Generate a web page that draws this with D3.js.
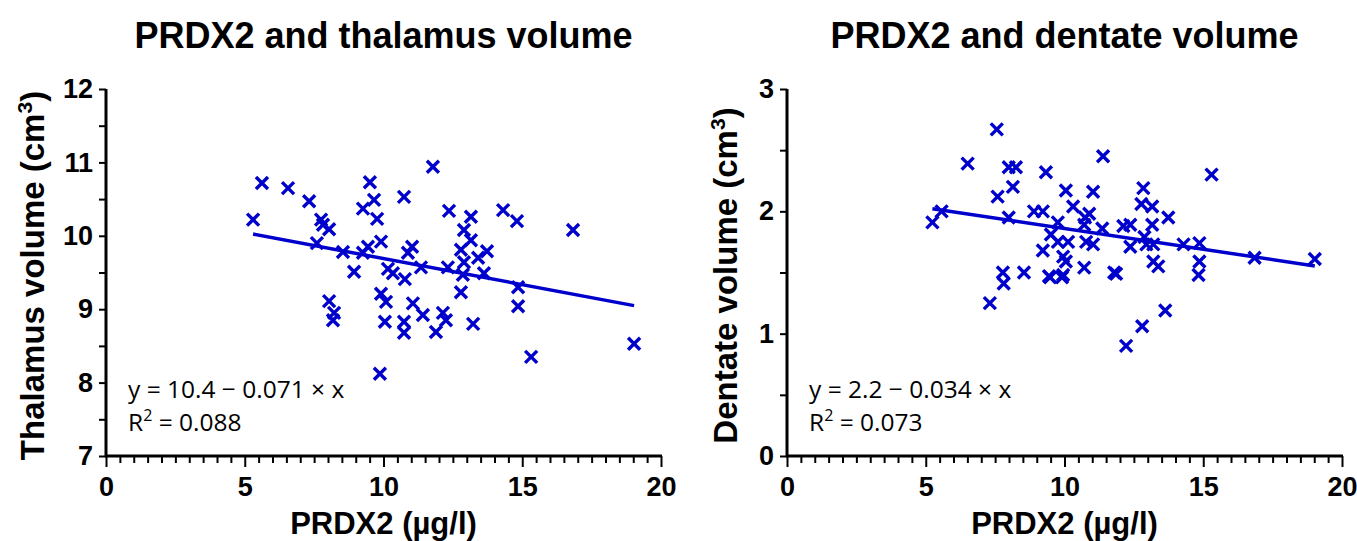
<!DOCTYPE html>
<html>
<head>
<meta charset="utf-8">
<script src="https://cdn.jsdelivr.net/npm/d3@7"></script>
<style>
  body { margin: 0; background: #fff; }
</style>
</head>
<body>
<svg id="chart" width="1357" height="541"></svg>
<script>
// ---------------------------------------------------------------
// Data
// ---------------------------------------------------------------
var thalamusX = [5.30, 5.62, 6.56, 7.32, 7.75, 7.82, 8.04, 7.60, 8.54, 8.94,
                 8.04, 8.22, 8.18, 9.26, 9.51, 9.66, 9.77, 9.91, 9.44, 9.26,
                 10.16, 10.34, 9.91, 10.09, 10.05, 9.87, 10.74, 10.77, 11.03, 10.88,
                 11.35, 11.06, 11.42, 10.74, 10.74, 11.78, 12.36, 13.15, 12.90, 12.79,
                 13.15, 13.41, 13.73, 12.90, 12.32, 12.86, 13.62, 12.79, 12.14, 12.25,
                 11.89, 13.23, 14.31, 14.81, 14.85, 14.85, 15.32, 16.83, 19.03];
var thalamusY = [10.22, 10.72, 10.65, 10.47, 10.22, 10.15, 10.09, 9.90, 9.78, 9.51,
                 9.11, 8.95, 8.85, 10.37, 10.73, 10.49, 10.23, 9.92, 9.85, 9.77,
                 9.55, 9.49, 9.21, 9.10, 8.83, 8.12, 10.53, 9.41, 9.85, 9.77,
                 9.57, 9.08, 8.92, 8.83, 8.68, 10.94, 10.34, 10.26, 10.08, 9.81,
                 9.94, 9.70, 9.79, 9.64, 9.57, 9.47, 9.49, 9.23, 8.95, 8.85,
                 8.69, 8.80, 10.35, 10.20, 9.30, 9.04, 8.35, 10.08, 8.53];

var dentateX = [7.56, 6.51, 7.99, 8.25, 9.33, 8.14, 7.59, 10.05, 10.31, 5.57,
                5.24, 7.99, 8.90, 9.22, 9.76, 9.51, 9.76, 10.13, 9.22, 9.95,
                10.05, 7.78, 8.54, 9.44, 9.95, 11.39, 15.30, 11.03, 12.84, 12.77,
                13.16, 10.89, 10.74, 10.71, 11.36, 12.12, 12.37, 13.16, 13.74, 10.78,
                11.03, 12.37, 12.88, 12.95, 13.20, 14.29, 14.86, 16.85, 19.02, 10.71,
                11.79, 11.86, 13.20, 13.38, 14.86, 14.83, 7.31, 7.81, 9.48, 9.91,
                13.63, 12.80, 12.22];
var dentateY = [2.67, 2.39, 2.36, 2.36, 2.32, 2.20, 2.12, 2.17, 2.04, 2.00,
                1.91, 1.95, 2.00, 2.00, 1.91, 1.81, 1.75, 1.75, 1.68, 1.63,
                1.59, 1.50, 1.50, 1.47, 1.48, 2.45, 2.30, 2.16, 2.19, 2.06,
                2.04, 1.98, 1.95, 1.89, 1.86, 1.88, 1.89, 1.89, 1.95, 1.75,
                1.73, 1.71, 1.79, 1.73, 1.73, 1.73, 1.74, 1.62, 1.61, 1.54,
                1.50, 1.49, 1.59, 1.55, 1.59, 1.48, 1.25, 1.41, 1.46, 1.46,
                1.19, 1.06, 0.90];

// regression: [intercept, slope]
var thalamusFit = [10.4, -0.071];
var dentateFit = [2.2, -0.034];

var xTicks = [0, 5, 10, 15, 20];
var thalamusTicks = [7, 8, 9, 10, 11, 12];
var dentateTicks = [0, 1, 2, 3];

var titles = ["PRDX2 and thalamus volume", "PRDX2 and dentate volume"];
var yTitles = ["Thalamus volume (cm", "Dentate volume (cm"];
var xTitle = "PRDX2 (\u00b5g/l)";
var eqText = ["y = 10.4 \u2212 0.071 \u00d7 x", "y = 2.2 \u2212 0.034 \u00d7 x"];
var r2Text = ["0.088", "0.073"];

// ---------------------------------------------------------------
var svg = d3.select("#chart");
var blue = "#0000cc";
var boldFont = "'Liberation Sans', Arial, sans-serif";
var plainFont = "'Open Sans', sans-serif";

/**
 * Draw one scatter panel
 * */
function drawPanel(p) {
    var g = svg.append("g");

    var x = d3.scaleLinear().domain([0, 20]).range([p.left, p.right]);
    var y = d3.scaleLinear().domain(p.yDomain).range([p.bottom, p.top]);

    // Title
    g.append("text")
        .text(p.title)
        .attr("x", (p.left + p.right) / 2)
        .attr("y", 48)
        .attr("text-anchor", "middle")
        .style("font-family", boldFont)
        .style("font-size", "36px")
        .style("font-weight", "bold");

    // X axis: minor every 0.5, major every 5
    var xAxis = d3.axisBottom(x)
        .tickValues(d3.range(0, 20.01, 0.5))
        .tickSize(7)
        .tickPadding(14)
        .tickFormat(d => xTicks.indexOf(d) >= 0 ? d : "");
    var gx = g.append("g")
        .attr("transform", `translate(0, ${p.bottom})`)
        .call(xAxis);
    gx.selectAll(".tick line")
        .attr("y2", d => xTicks.indexOf(d) >= 0 ? 11 : 7)
        .attr("stroke-width", 2);
    gx.select(".domain").attr("stroke-width", 3).attr("d", `M${p.left - 1},0H${p.right + 1}`);
    gx.selectAll(".tick text")
        .style("font-family", boldFont)
        .style("font-size", "27px")
        .style("font-weight", "bold")
        .attr("fill", "#000");

    // Y axis: ticks every 0.5, labels on integers
    var yAxis = d3.axisLeft(y)
        .tickValues(d3.range(p.yDomain[0], p.yDomain[1] + 0.01, 0.5))
        .tickSize(7)
        .tickPadding(6)
        .tickFormat(d => p.yTicks.indexOf(d) >= 0 ? d : "");
    var gy = g.append("g")
        .attr("transform", `translate(${p.left}, 0)`)
        .call(yAxis);
    gy.selectAll(".tick line").attr("stroke-width", 2);
    gy.select(".domain").attr("stroke-width", 3).attr("d", `M0,${p.top}V${p.bottom}`);
    gy.selectAll(".tick text")
        .style("font-family", boldFont)
        .style("font-size", "27px")
        .style("font-weight", "bold")
        .attr("fill", "#000");

    // Axis titles
    g.append("text")
        .text(xTitle)
        .attr("x", (p.left + p.right) / 2)
        .attr("y", 534)
        .attr("text-anchor", "middle")
        .style("font-family", boldFont)
        .style("font-size", "31px")
        .style("font-weight", "bold");

    var yt = g.append("text")
        .attr("transform", `translate(${p.yTitleX}, ${(p.top + p.bottom) / 2 + 3}) rotate(-90)`)
        .attr("text-anchor", "middle")
        .style("font-family", boldFont)
        .style("font-size", "33px")
        .style("font-weight", "bold");
    yt.append("tspan").text(p.yTitle);
    yt.append("tspan").text("3").style("font-size", "21px").attr("dy", -12);
    yt.append("tspan").text(")").attr("dy", 12);

    // Regression line over the data range
    var x0 = d3.min(p.xs), x1 = d3.max(p.xs);
    g.append("line")
        .attr("x1", x(x0)).attr("y1", y(p.fit[0] + p.fit[1] * x0))
        .attr("x2", x(x1)).attr("y2", y(p.fit[0] + p.fit[1] * x1))
        .attr("stroke", blue)
        .attr("stroke-width", 3.5);

    // Points as X markers
    var s = 6;
    g.selectAll(".pt")
        .data(p.xs.map((d, i) => [d, p.ys[i]]))
        .enter().append("path")
        .attr("class", "pt")
        .attr("transform", d => `translate(${x(d[0])}, ${y(d[1])})`)
        .attr("d", `M${-s},${-s}L${s},${s}M${-s},${s}L${s},${-s}`)
        .attr("stroke", blue)
        .attr("stroke-width", 3.4)
        .attr("fill", "none");

    // Equation text
    g.append("text")
        .text(p.eq)
        .attr("x", p.left + 22)
        .attr("y", 398)
        .style("font-family", plainFont)
        .style("font-size", "24.5px");
    var r2 = g.append("text")
        .attr("x", p.left + 22)
        .attr("y", 431)
        .style("font-family", plainFont)
        .style("font-size", "24.5px");
    r2.append("tspan").text("R");
    r2.append("tspan").text("2").style("font-size", "16px").attr("dy", -10);
    r2.append("tspan").text(" = " + p.r2).attr("dy", 10);
}

drawPanel({
    left: 106, right: 661, top: 89, bottom: 456,
    yDomain: [7, 12], yTicks: thalamusTicks,
    title: titles[0], yTitle: yTitles[0], yTitleX: 44,
    xs: thalamusX, ys: thalamusY, fit: thalamusFit,
    eq: eqText[0], r2: r2Text[0]
});

drawPanel({
    left: 787, right: 1342, top: 89, bottom: 456,
    yDomain: [0, 3], yTicks: dentateTicks,
    title: titles[1], yTitle: yTitles[1], yTitleX: 737,
    xs: dentateX, ys: dentateY, fit: dentateFit,
    eq: eqText[1], r2: r2Text[1]
});
</script>
</body>
</html>
